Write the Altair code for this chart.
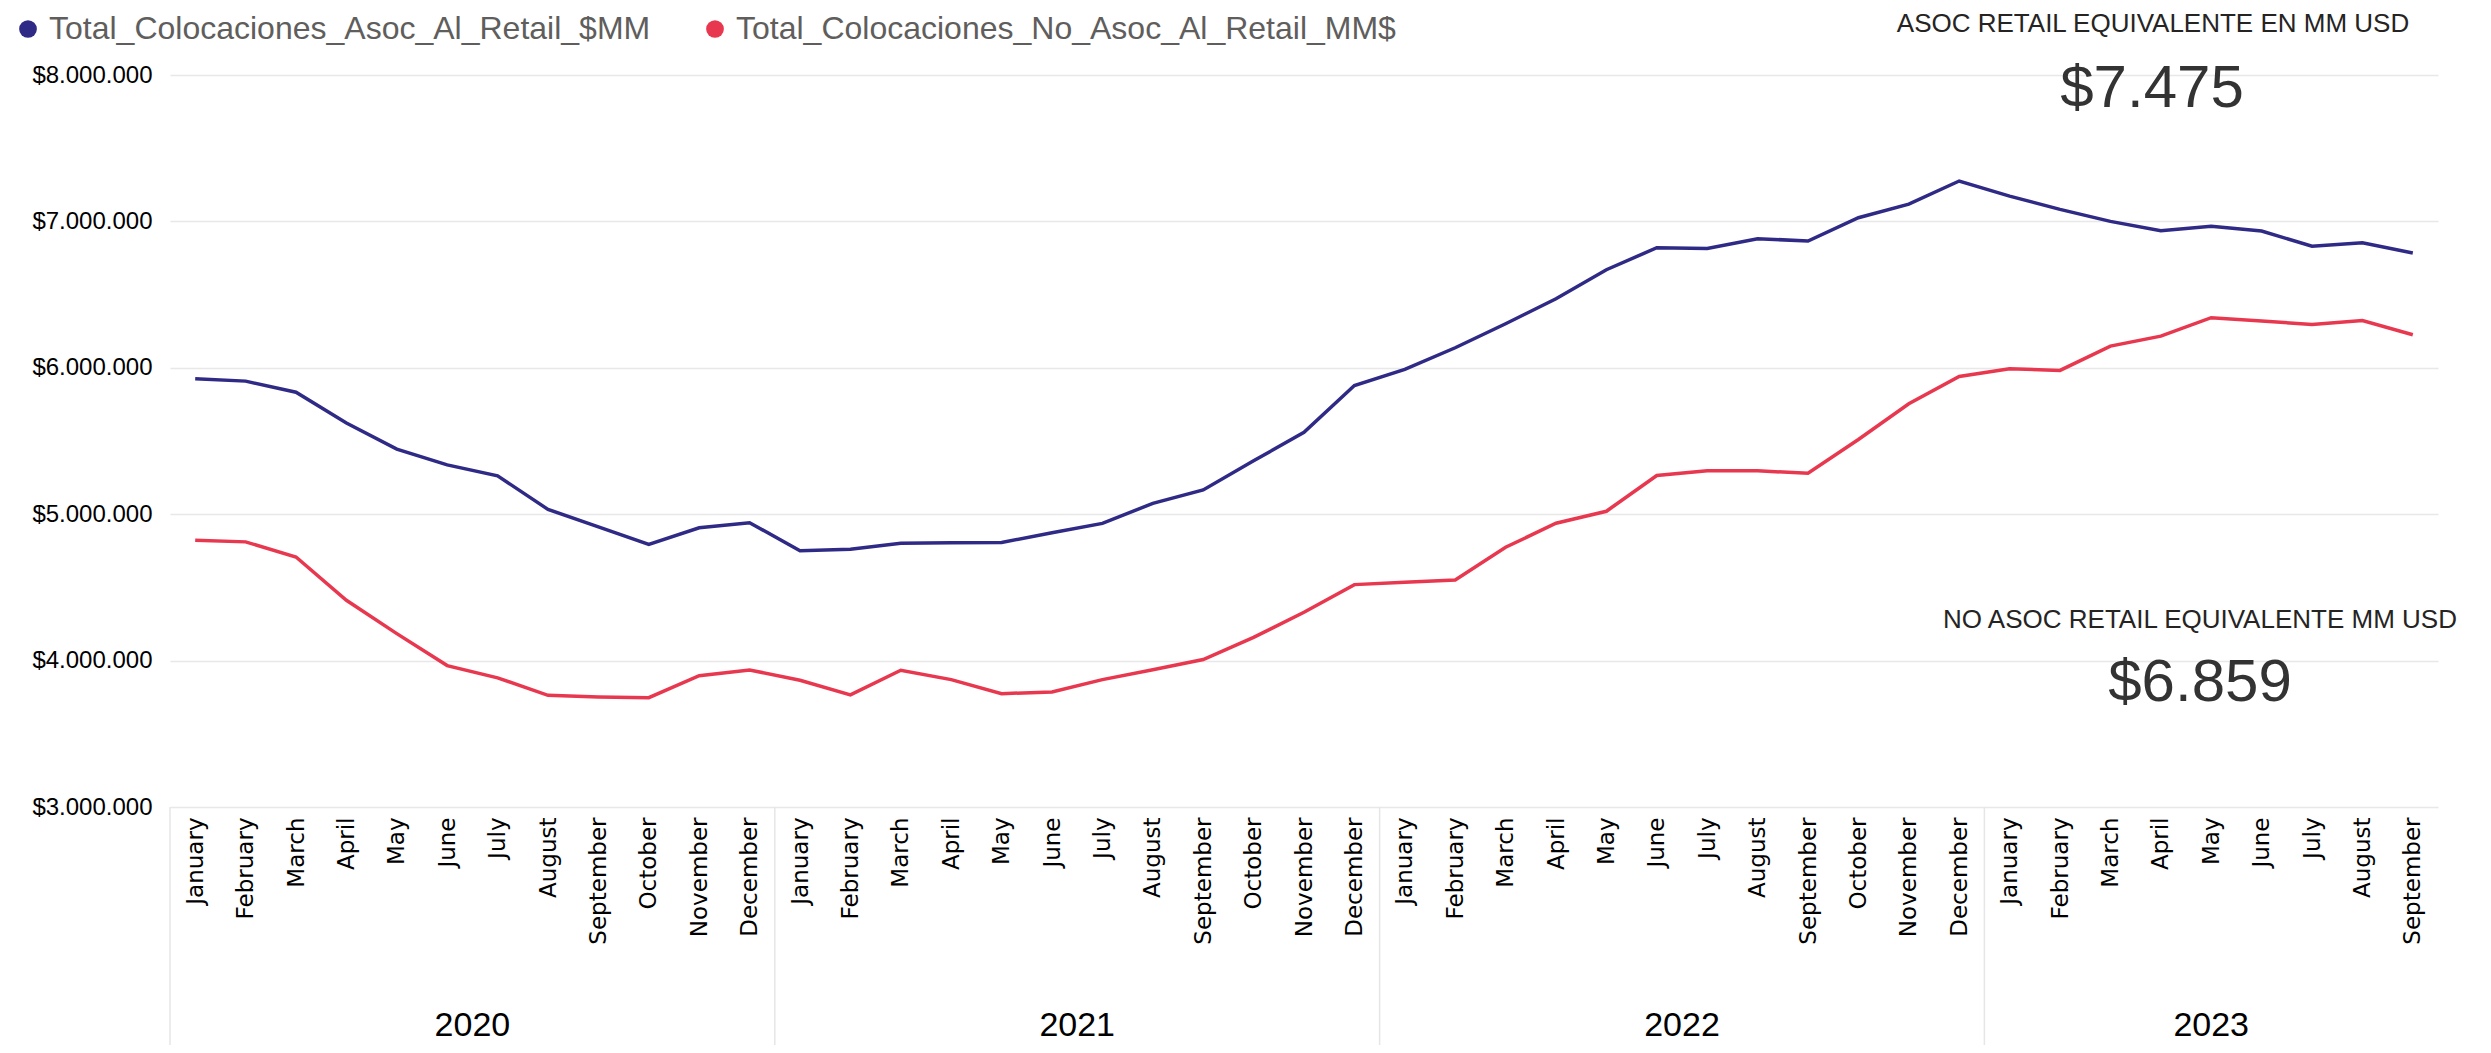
import altair as alt
import pandas as pd

month_names = ["January", "February", "March", "April", "May", "June", "July",
               "August", "September", "October", "November", "December"]
years = ["2020", "2021", "2022", "2023"]
months_per_year = [12, 12, 12, 9]

series_names = ["Total_Colocaciones_Asoc_Al_Retail_$MM",
                "Total_Colocaciones_No_Asoc_Al_Retail_MM$"]
series_colors = ["#2F2A86", "#E8384F"]

# values in millions, Jan 2020 .. Sep 2023
asoc_mm = [5.925, 5.909, 5.833, 5.623, 5.445, 5.337, 5.262, 5.033, 4.913, 4.793, 4.907, 4.942,
           4.750, 4.761, 4.802, 4.805, 4.807, 4.873, 4.937, 5.074, 5.166, 5.365, 5.559, 5.879,
           5.989, 6.137, 6.301, 6.472, 6.670, 6.820, 6.815, 6.882, 6.866, 7.025, 7.118, 7.276,
           7.173, 7.082, 7.000, 6.936, 6.966, 6.934, 6.831, 6.854, 6.784]
no_asoc_mm = [4.822, 4.811, 4.708, 4.412, 4.184, 3.966, 3.882, 3.763, 3.752, 3.747, 3.897, 3.936,
              3.866, 3.766, 3.934, 3.870, 3.774, 3.786, 3.870, 3.938, 4.007, 4.159, 4.330, 4.519,
              4.535, 4.551, 4.774, 4.938, 5.020, 5.264, 5.296, 5.296, 5.280, 5.510, 5.754, 5.941,
              5.993, 5.982, 6.148, 6.216, 6.342, 6.319, 6.296, 6.323, 6.226]

y_ticks = [3000000, 4000000, 5000000, 6000000, 7000000, 8000000]

card_titles = ["ASOC RETAIL EQUIVALENTE EN MM USD", "NO ASOC RETAIL EQUIVALENTE MM USD"]
card_values = ["$7.475", "$6.859"]

SANS = "Liberation Sans, Arial, sans-serif"
WIDE = "DejaVu Sans, Verdana, sans-serif"

# ---- build tables ----
rows = []
n = len(asoc_mm)
for i in range(n):
    rows.append({"idx": i, "series": series_names[0], "value": asoc_mm[i] * 1e6})
    rows.append({"idx": i, "series": series_names[1], "value": no_asoc_mm[i] * 1e6})
df = pd.DataFrame(rows)

year_rows = []
sep_rows = []
start = 0
for y, m in zip(years, months_per_year):
    year_rows.append({"center": start + (m - 1) / 2.0, "year": y})
    sep_rows.append({"pos": start - 0.5})
    start += m
df_years = pd.DataFrame(year_rows)
df_sep = pd.DataFrame(sep_rows)

W, H = 2268, 732

x_scale = alt.Scale(domain=[-0.5, n - 0.5], nice=False, zero=False)
y_scale = alt.Scale(domain=[3000000, 8000000], nice=False, zero=False)
series_scale = alt.Scale(domain=series_names, range=series_colors)

month_array = "[" + ",".join("'%s'" % m for m in month_names) + "]"

x_axis = alt.Axis(values=list(range(n)), labelExpr=month_array + "[datum.value % 12]",
                  labelAngle=270, labelAlign="right", labelBaseline="middle",
                  labelFont=WIDE, labelFontSize=23, labelColor="#000000",
                  labelPadding=10, ticks=False, tickSize=0, domain=False, grid=False,
                  title=None, labelOverlap=False, labelFlush=False)
y_axis = alt.Axis(values=y_ticks,
                  labelExpr="'$' + replace(format(datum.value, ',.0f'), regexp(',', 'g'), '.')",
                  labelFont=SANS, labelFontSize=24, labelColor="#000000",
                  labelPadding=18, ticks=False, tickSize=0, domain=False, grid=True,
                  gridColor="#E8E8E8", gridWidth=1.5, title=None)

base = alt.Chart(df)

lines = base.mark_line(strokeWidth=3.5).encode(
    x=alt.X("idx:Q", scale=x_scale, axis=x_axis),
    y=alt.Y("value:Q", scale=y_scale, axis=y_axis),
    stroke=alt.Stroke("series:N", scale=series_scale, legend=None),
)

legend_pts = base.transform_filter("datum.idx < 0").mark_point(filled=True, opacity=1).encode(
    x=alt.X("idx:Q", scale=x_scale),
    y=alt.Y("value:Q", scale=y_scale),
    fill=alt.Fill("series:N", scale=series_scale,
                  legend=alt.Legend(orient="none", legendX=-158, legendY=-62,
                                    direction="horizontal", title=None,
                                    symbolType="circle", symbolSize=314,
                                    symbolStrokeWidth=0,
                                    labelFont=SANS, labelFontSize=32,
                                    labelColor="#605E5C", labelOffset=5,
                                    columnPadding=48, labelLimit=0)),
)

seps = alt.Chart(df_sep).mark_rule(color="#E6E6E6", strokeWidth=1.5).encode(
    x=alt.X("pos:Q", scale=x_scale),
    y=alt.value(H),
    y2=alt.value(H + 240),
)

year_text = alt.Chart(df_years).mark_text(
    font=SANS, fontSize=34, color="#000000", baseline="middle", align="center"
).encode(
    x=alt.X("center:Q", scale=x_scale),
    y=alt.value(951),
    text="year:N",
)

cards_df = pd.DataFrame({"title": card_titles, "value": card_values})

card1_title = alt.Chart(cards_df).transform_filter(alt.datum.title == card_titles[0]).mark_text(
    font=SANS, fontSize=26, color="#252423", align="center", baseline="middle"
).encode(x=alt.value(1983), y=alt.value(-51), text="title:N")
card1_value = alt.Chart(cards_df).transform_filter(alt.datum.title == card_titles[0]).mark_text(
    font=SANS, fontSize=60, color="#333333", align="center", baseline="middle"
).encode(x=alt.value(1982), y=alt.value(14), text="value:N")
card2_title = alt.Chart(cards_df).transform_filter(alt.datum.title == card_titles[1]).mark_text(
    font=SANS, fontSize=26, color="#252423", align="center", baseline="middle"
).encode(x=alt.value(2030), y=alt.value(545), text="title:N")
card2_value = alt.Chart(cards_df).transform_filter(alt.datum.title == card_titles[1]).mark_text(
    font=SANS, fontSize=60, color="#333333", align="center", baseline="middle"
).encode(x=alt.value(2030), y=alt.value(608), text="value:N")

chart = alt.layer(
    seps, lines, legend_pts, year_text, card1_title, card1_value, card2_title, card2_value
).resolve_scale(fill="independent", stroke="independent").properties(
    width=W, height=H,
    autosize=alt.AutoSizeParams(type="none"),
    padding={"left": 162, "top": 67, "right": 45, "bottom": 238},
    background="white",
).configure_view(stroke=None)

chart.save("out.html", embed_options={"renderer": "svg", "actions": False})
